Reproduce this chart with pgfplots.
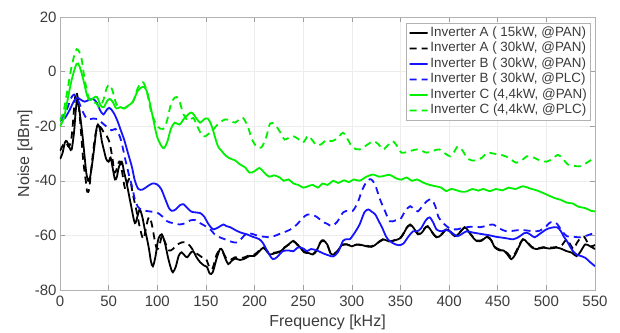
\documentclass[border=0pt]{standalone}
\usepackage{fontspec}
\setmainfont{Liberation Sans}
\usepackage{pgfplots}
\pgfplotsset{compat=1.18}
\definecolor{mgreen}{RGB}{0,240,0}
\definecolor{mblue}{RGB}{20,20,255}
\definecolor{txtgray}{RGB}{60,60,60}
\begin{document}
\begin{tikzpicture}
\begin{axis}[
 name=ax,
 scale only axis, width=535pt, height=273pt,
 xmin=0,xmax=550,ymin=-80,ymax=20,
 xtick={0,50,...,550}, ytick={-80,-60,...,20},
 grid=major, grid style={color=gray!14, line width=0.6pt},
 axis line style={color=gray!60, line width=0.7pt},
 tick style={color=gray!75, line width=0.6pt},
 tick align=inside, major tick length=5pt, tick pos=both,
 /pgf/number format/assume math mode=true,
 ticklabel style={font=\fontsize{15}{18}\selectfont, text=txtgray},
 xticklabel style={yshift=-2pt},
 xlabel={Frequency [kHz]}, ylabel={Noise [dBm]},
 label style={font=\fontsize{16}{19}\selectfont, text=txtgray},
 xlabel style={at={(axis description cs:0.5,-0.1172)}, anchor=center},
 ylabel style={at={(axis description cs:-0.0654,0.5)}, anchor=center, rotate=0},
 legend style={at={(axis description cs:1,1)}, anchor=north east, xshift=-5pt, yshift=-6pt,
   draw=gray!60, fill=white, font=\fontsize{13.4}{15}\selectfont, text=txtgray,
   inner sep=2pt, row sep=0pt, column sep=1pt,
   nodes={inner sep=1pt, text height=10pt, text depth=3.5pt}},
 legend cell align=left,
 legend image code/.code={\draw[#1, sharp plot, line width=1.8pt] (0pt,0pt) -- (9pt,0.02pt) -- (18pt,0pt);},
 every axis plot/.append style={line width=1.8pt, smooth, tension=0.5},
]
% Inverter A 15kW PAN
\addplot[black] coordinates {(0,-32) (2.5,-30) (5,-26) (7,-25.5) (10,-28) (12,-28.5) (14.5,-22) (16,-15) (17.5,-10.5) (19,-12) (21,-17) (23,-23) (25,-30) (27,-37) (29,-40) (31,-38.5) (33,-34) (35.5,-27) (37.5,-21) (39,-19.4) (41,-21) (43,-25.5) (45,-28.5) (47.5,-32) (50,-33) (52,-31.5) (54,-35) (56.5,-39.5) (58.5,-38.5) (60.5,-35) (63.5,-33) (66,-37) (68,-40) (70,-43.5) (73,-49) (77,-55.5) (80,-52.5) (82,-50.5) (84.5,-53) (87,-57.5) (89,-60.5) (91.5,-65) (93.5,-69.5) (95.5,-71.3) (98,-68) (101,-61.5) (104.6,-59.6) (108,-63) (111,-68) (114,-72) (116,-73.5) (119,-71.5) (122,-67.5) (125,-66.2) (128.5,-67.5) (131,-68) (134,-66.5) (137,-65.8) (140,-67.8) (144,-69.8) (148,-71) (151,-71.5) (154,-74) (157,-73.5) (161,-68.5) (164.5,-65) (167,-65.5) (170,-68.5) (173,-70.5) (176,-69.5) (180,-68.5) (185,-69) (190,-68.5) (195,-67.5) (200,-67.5) (205,-65.8) (209,-64.5) (213,-66) (216,-67) (221,-66.5) (226,-66) (231,-64.5) (236,-63) (240,-62) (244,-63.5) (247,-64.4) (251,-66.2) (256,-66.5) (260,-67) (264,-65.5) (268,-62.3) (271,-61.8) (275,-63.5) (278,-66.5) (281,-67) (285,-66) (288,-64.3) (291,-63.3) (295,-63.3) (300,-64) (305,-63.3) (310,-63.5) (315,-64) (320,-64.2) (324,-63.5) (329,-62) (332,-61.4) (337,-62) (342,-62) (347,-61.5) (350,-61) (353,-59.5) (356,-57.5) (360,-56) (364,-57.5) (368,-59.6) (372,-59) (375,-57.5) (378,-56.6) (382,-58.5) (387,-60.7) (392,-59.8) (397,-57.8) (401,-58.5) (406,-60.3) (411,-59) (416,-57) (420,-58.5) (424,-60.5) (428,-62) (433,-62) (439,-60.5) (443,-61.5) (447,-64.4) (452,-65.5) (456,-65.5) (460,-67) (464,-68.7) (468,-67) (472,-64) (476,-61.4) (480,-62.5) (485,-64.4) (490,-65) (497,-64.5) (503,-64.8) (511,-64.5) (516,-65) (521,-65.8) (526,-66.3) (531,-67.6) (535,-66) (540,-63.3) (545,-64) (550,-65)};
\addlegendentry{Inverter A ( 15kW, @PAN)}
% Inverter A 30kW PAN
\addplot[black, dash pattern=on 7pt off 5pt] coordinates {(0,-29) (3,-27) (6,-26) (9,-27.5) (11.5,-25) (13.5,-18) (15,-11) (16.5,-7.5) (18,-9) (20,-15) (22,-24) (24,-33) (26.5,-40) (28,-44) (30,-43) (32,-36) (34.5,-28) (37,-22) (40,-20) (43,-21) (46,-23) (48,-23.6) (51,-26) (54,-32) (56,-37) (58,-36) (60,-33.5) (62,-33) (64,-37) (67,-43) (70,-40) (72,-39.5) (75,-45) (79,-51.6) (82,-57) (85.6,-61.4) (88,-58) (90.5,-54) (92.5,-53.4) (95,-57) (97.5,-62) (99.7,-65) (102,-64) (105,-60) (108,-62.5) (112,-65.5) (116,-65) (121,-63.3) (126,-62.5) (130,-62.6) (134,-64) (138,-66) (142,-67) (146,-68) (150,-68.5) (154,-72) (157,-72) (161,-67) (164.5,-65.5) (168,-66.5) (171,-68.5) (175,-69) (180,-68) (185,-68.3) (190,-68) (195,-67.2) (200,-67) (205,-65.5) (209,-64.5) (213,-65.8) (216,-66.5) (221,-66.3) (226,-65.8) (231,-64.3) (236,-63.2) (240,-62.2) (244,-63.3) (247,-64.2) (251,-66) (256,-66.3) (260,-66.8) (264,-65.3) (268,-62.5) (271,-62) (275,-63.7) (278,-66.3) (281,-66.8) (285,-65.8) (288,-64.5) (291,-63.5) (295,-63.3) (300,-63.8) (305,-63.4) (310,-63.6) (315,-63.8) (320,-64) (324,-63.3) (329,-62.2) (332,-61.6) (337,-62.2) (342,-62) (347,-61.3) (350,-60.8) (353,-59.3) (356,-57.3) (360,-56.2) (364,-57.7) (368,-59.4) (372,-58.8) (375,-57.3) (378,-56.8) (382,-58.7) (387,-60.5) (392,-59.6) (397,-57.9) (401,-58.7) (406,-60.1) (411,-58.8) (416,-57.2) (420,-58.7) (424,-60.3) (428,-61.8) (433,-61.8) (439,-60.7) (443,-61.7) (447,-64.2) (452,-65.2) (456,-65.7) (460,-66.5) (464,-68) (468,-66.5) (472,-63.5) (476,-61.5) (480,-62.3) (485,-64.2) (490,-64.8) (497,-64.3) (503,-64.5) (511,-64.2) (516,-63.5) (521,-61.4) (524,-63) (528,-65) (531,-63) (535,-61) (539,-60.5) (542,-62.5) (546,-64) (550,-63.5)};
\addlegendentry{Inverter A ( 30kW, @PAN)}
% Inverter B 30kW PAN
\addplot[mblue] coordinates {(0,-18) (5,-17) (10,-14) (14,-11) (17.5,-9.6) (21,-10.2) (25,-11) (29,-10.5) (34,-10) (38,-11.5) (41,-14) (44.5,-15.7) (48,-14) (51,-13.3) (55,-15) (59,-18) (62,-21) (66,-25) (70,-30) (74,-35) (77,-40) (80.6,-43) (85,-43.2) (90,-42) (95,-41) (99.7,-41.3) (104,-43) (108,-46.5) (112,-50) (115,-51) (119,-50.5) (123,-49) (127,-48.6) (131,-50) (135,-51.3) (140,-51.6) (144,-51.8) (148,-53) (152,-55.5) (155,-57) (158,-57.8) (163,-57) (168,-56) (171,-56.6) (175,-57) (180,-58) (186,-59) (192,-59.6) (198,-60.5) (205,-61.4) (209,-63) (212,-65) (216,-67.5) (219,-68.7) (223,-68) (229,-65.8) (235,-65.5) (240,-65.8) (244,-64.5) (247,-64.4) (251,-65) (254,-65.8) (258,-65) (264,-65.5) (270,-66.5) (276,-67.3) (281,-67.7) (286,-66) (291,-62) (295,-61.4) (298,-61.4) (303,-59) (308,-56) (313,-51.5) (317,-50.5) (320,-51.2) (324,-52.3) (328,-55) (331,-57) (334,-59.5) (337,-61.4) (342,-62.8) (348,-63.6) (353,-63) (358,-60.5) (363,-58.5) (367,-58.5) (371,-57.5) (376,-54.5) (380,-53.4) (384,-55.5) (387,-57.8) (392,-58.5) (397,-58) (402,-58.8) (408,-60.3) (413,-59.5) (418,-58.5) (425,-59) (430,-59.3) (435,-59.6) (442,-60) (448,-60.5) (452,-60.7) (458,-61) (466,-61.4) (472,-60.5) (477,-59.2) (480,-59) (484,-59.8) (488,-60.7) (493,-59.5) (500,-57.8) (505,-57.2) (511,-57) (515,-58.5) (518,-60.5) (521,-62) (525,-64.5) (528,-66) (532,-67.2) (536,-67.6) (540,-68.2) (545,-69.8) (550,-71.3)};
\addlegendentry{Inverter B ( 30kW, @PAN)}
% Inverter B 30kW PLC
\addplot[mblue, dash pattern=on 7pt off 5pt] coordinates {(0,-17.5) (4,-16) (8,-13) (11,-10) (14.4,-8.4) (18,-10) (22,-13.5) (26,-16.5) (29,-17.5) (34,-17.2) (39,-17.5) (44,-19) (49,-20.5) (53,-21.5) (57,-21) (60,-22.5) (63,-25.5) (67,-32) (71,-38) (74,-42) (77,-46.8) (80,-49.5) (83,-50.5) (88,-51) (94,-51.3) (99.7,-51.6) (105,-53) (110,-54.8) (116,-55.5) (123,-56) (129,-55.5) (134,-54.5) (139,-54.4) (144,-55.5) (149,-56.5) (155,-58) (160,-60) (165,-60.8) (170,-61.5) (176,-62.3) (182,-62.6) (187,-61) (192,-59.2) (198,-59.5) (205,-60.3) (211,-60.5) (216,-60.7) (222,-60) (229,-59) (236,-58) (243.6,-56) (249,-53.8) (254,-52.4) (260,-52.5) (265,-53.5) (270,-55) (275,-55.8) (279.5,-56.6) (285,-55) (291,-51.6) (296,-51) (301,-51) (306,-48) (310,-44) (313.5,-41.3) (317,-39.7) (320,-39.5) (324,-41.5) (329,-46.8) (334,-51) (339,-54.8) (345,-54.5) (350,-54) (355,-51) (360,-49.3) (364,-50.5) (368,-51.2) (372,-49.5) (377,-47.5) (382,-46.8) (386,-49.5) (389,-53.2) (394,-55.5) (401,-57.5) (408,-57.8) (413,-57.3) (418,-57) (425,-56.8) (432,-57) (438,-56.5) (445,-56) (452,-57.5) (459,-58.5) (466,-58.3) (473,-58) (480,-58.2) (487,-58.5) (493,-58.3) (499,-57) (503,-55.5) (507,-55) (511,-55.8) (516,-58.3) (521,-60.3) (528,-60.5) (535,-60.7) (542,-60) (550,-59)};
\addlegendentry{Inverter B ( 30kW, @PLC)}
% Inverter C 4,4kW PAN
\addplot[mgreen] coordinates {(0,-20) (4,-17) (8,-10) (12,-3) (17,2.8) (20,2) (24,-3) (28,-9) (31,-10.5) (35,-9.5) (38,-9.3) (42,-12.5) (45,-13) (48,-11) (51,-10) (54,-11) (58,-13.5) (62,-13) (66,-13.5) (70,-12.5) (75,-11) (80,-7) (86,-5.6) (90,-8) (95,-16) (100,-24) (106,-28) (110,-26) (114,-21) (118,-18.7) (123,-19.4) (128,-17) (135,-15) (140,-17) (144,-18.7) (148,-17.5) (152,-17.2) (156,-20) (162,-27) (166,-29) (171,-31) (176,-32) (180,-32.5) (185,-34) (190,-35) (195,-37) (200,-36.5) (205,-35.3) (210,-37) (215,-38.5) (220,-38) (226,-38.8) (230,-40) (235,-39.5) (240,-41) (245,-41.5) (250,-42.5) (255,-42) (260,-41.5) (265,-42.5) (270,-41) (275,-41.5) (281,-40) (286,-40.8) (292,-39.8) (297,-40.5) (302,-39.5) (308,-40) (315,-38.5) (322,-37.7) (328,-38.5) (333,-38.2) (339,-37.8) (345,-39) (351,-39.6) (356,-38.8) (362,-40) (367,-39.5) (373,-40.6) (380,-41.5) (386,-42) (392,-42.5) (397,-43.8) (402,-43) (408,-43.5) (413,-44) (418,-43.9) (424,-43) (430,-43.6) (435,-43) (442,-43.8) (448,-43) (455,-43.5) (461,-42.5) (468,-43) (476,-42) (483,-42.8) (490,-43.5) (497,-44.5) (503,-45.5) (510,-46.5) (515,-47) (521,-48) (527,-48.3) (533,-49.5) (540,-50) (546,-51) (550,-51.2)};
\addlegendentry{Inverter C (4,4kW, @PAN)}
% Inverter C 4,4kW PLC
\addplot[mgreen, dash pattern=on 7pt off 5pt] coordinates {(0,-18) (4,-14) (8,-6) (12,2) (16,7.5) (18.5,8) (22,5) (25,-2) (29,-9) (33,-11) (37,-11.5) (41,-13) (45,-10) (48,-6) (51,-4.8) (54,-7) (58,-12) (62,-13) (66,-13.5) (70,-12.5) (75,-11) (80,-6) (85,-3.8) (89,-7) (94,-15) (100,-20) (106,-21) (110,-18) (114,-12) (118,-9.5) (122,-10) (127,-15.7) (132,-18) (137,-17) (141,-20) (147,-23.8) (152,-23) (157,-21.5) (163,-19) (170,-17.5) (175,-18) (180,-18.7) (184,-17.5) (188,-16.9) (193,-20) (197,-24.5) (202,-27.5) (207,-27.8) (212,-24) (216,-19) (221,-19.4) (226,-22) (231,-24.9) (236,-24) (241,-23.8) (246,-25) (250,-26) (255,-23.5) (259,-25) (264,-27) (269,-26.5) (274,-25) (279,-25.5) (285,-24.5) (291,-22.4) (296,-25) (301,-27.9) (308,-28.5) (315,-27) (322,-25.5) (327,-26.5) (332,-28.5) (337,-27) (342,-25.5) (347,-27.5) (351,-29.7) (356,-29.5) (361,-29) (367,-28.5) (372,-29) (377,-29.7) (384,-29) (390,-28.5) (396,-30) (401,-31) (405,-29.5) (409,-27.4) (414,-29) (418,-31.5) (423,-32.5) (428,-32.5) (434,-31.5) (439,-29.7) (445,-30) (452,-30.4) (458,-31) (463,-32) (469,-33.4) (475,-32.5) (480,-31) (487,-31.5) (493,-32.5) (500,-33) (506,-32) (512,-30.5) (517,-32) (522,-34) (528,-34.5) (535,-34.7) (541,-33.5) (547,-32.2) (550,-32.5)};
\addlegendentry{Inverter C (4,4kW, @PLC)}
\end{axis}
\path ([xshift=-60pt,yshift=-42pt]ax.south west) rectangle ([xshift=25pt,yshift=17pt]ax.north east);
\end{tikzpicture}
\end{document}
